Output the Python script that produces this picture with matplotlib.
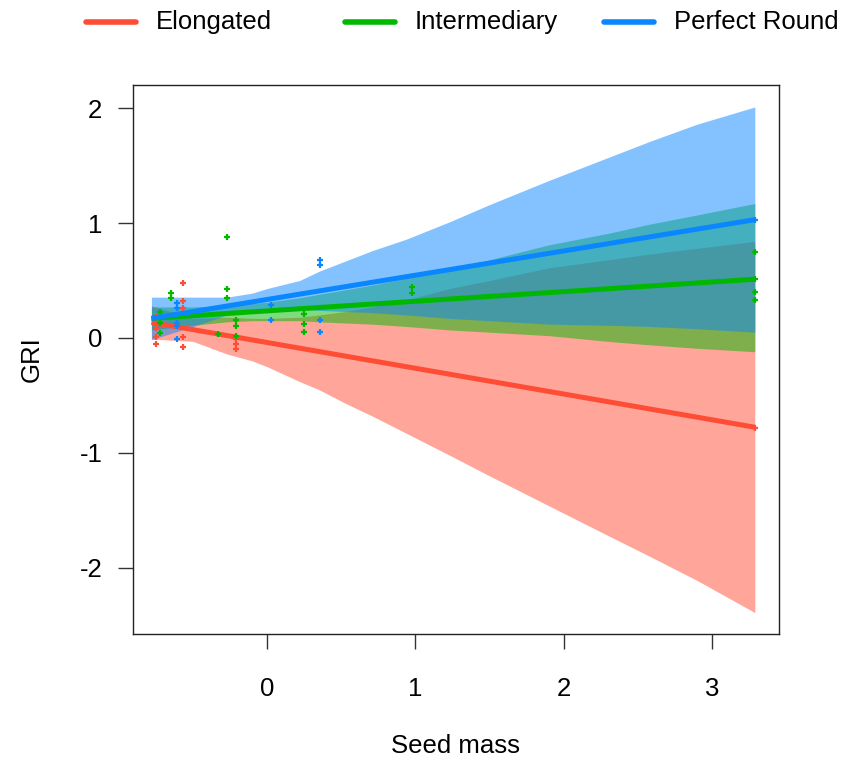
import matplotlib
matplotlib.use('Agg')
import matplotlib.pyplot as plt
from matplotlib.lines import Line2D

###############################################################################
#0. Data
###############################################################################

groups = ['Elongated', 'Intermediary', 'Perfect Round']
colours = ['#FF4D35', '#00B800', '#0A86FF']

#Fitted lines and confidence bands, sampled along seed mass
bandX = [-0.78, -0.5, -0.27, -0.1, 0.0, 0.22, 0.35, 0.53, 0.71, 0.94, 1.23, 1.5, 1.9, 2.3, 2.58, 2.9, 3.29]

elongMean = [0.135, 0.072, 0.021, -0.017, -0.04, -0.089, -0.118, -0.158, -0.199, -0.25, -0.315,
             -0.376, -0.465, -0.555, -0.618, -0.69, -0.777]
elongLow = [-0.01, -0.03, -0.14, -0.20, -0.25, -0.38, -0.45, -0.57, -0.68, -0.83, -1.02,
            -1.20, -1.46, -1.72, -1.90, -2.11, -2.39]
elongHigh = [0.28, 0.17, 0.18, 0.17, 0.17, 0.18, 0.20, 0.23, 0.27, 0.33, 0.43,
             0.50, 0.61, 0.68, 0.73, 0.78, 0.84]

interMean = [0.17, 0.193, 0.213, 0.227, 0.235, 0.254, 0.265, 0.28, 0.295, 0.314, 0.338,
             0.361, 0.394, 0.428, 0.451, 0.478, 0.511]
interLow = [0.07, 0.11, 0.14, 0.15, 0.15, 0.15, 0.14, 0.13, 0.12, 0.10, 0.07,
            0.05, 0.02, -0.03, -0.06, -0.09, -0.12]
interHigh = [0.27, 0.27, 0.28, 0.30, 0.31, 0.35, 0.38, 0.42, 0.46, 0.52, 0.60,
             0.68, 0.81, 0.91, 0.99, 1.07, 1.17]

roundMean = [0.17, 0.229, 0.278, 0.314, 0.335, 0.381, 0.408, 0.446, 0.484, 0.533, 0.594,
             0.651, 0.735, 0.82, 0.879, 0.946, 1.029]
roundLow = [-0.015, 0.10, 0.20, 0.23, 0.24, 0.25, 0.24, 0.23, 0.22, 0.20, 0.17,
            0.15, 0.12, 0.11, 0.10, 0.08, 0.05]
roundHigh = [0.355, 0.355, 0.355, 0.39, 0.43, 0.50, 0.58, 0.67, 0.76, 0.86, 1.01,
             1.16, 1.37, 1.57, 1.71, 1.86, 2.01]

#Raw observations
elongPtsX = [-0.75, -0.75, -0.75, -0.75, -0.57, -0.57, -0.57, -0.57, -0.57, -0.21, -0.21, -0.21, 3.29]
elongPtsY = [0.185, 0.09, 0.006, -0.05, 0.48, 0.32, 0.26, 0.006, -0.08, -0.01, -0.05, -0.10, -0.78]

interPtsX = [-0.72, -0.72, -0.72, -0.65, -0.65, -0.33, -0.27, -0.27, -0.27, -0.21, -0.21, -0.21,
             0.25, 0.25, 0.25, 0.98, 0.98, 3.29, 3.29, 3.29, 3.29]
interPtsY = [0.23, 0.13, 0.04, 0.39, 0.345, 0.03, 0.875, 0.43, 0.345, 0.16, 0.10, 0.02,
             0.21, 0.12, 0.055, 0.44, 0.39, 0.75, 0.51, 0.40, 0.33]

roundPtsX = [-0.61, -0.61, -0.61, -0.61, -0.61, 0.355, 0.355, 0.355, 0.355, 0.025, 0.025, 3.29]
roundPtsY = [0.30, 0.26, 0.13, 0.10, -0.01, 0.68, 0.635, 0.16, 0.055, 0.29, 0.155, 1.03]

xTicks = [0, 1, 2, 3]
yTicks = [-2, -1, 0, 1, 2]

###############################################################################
#1. Plot
###############################################################################

plt.rcParams['font.family'] = ['Liberation Sans', 'DejaVu Sans']
plt.rcParams['font.size'] = 18.5
plt.rcParams['axes.unicode_minus'] = False

fig = plt.figure(figsize=(8.42, 7.6), dpi=100)
ax = fig.add_axes([0.158, 0.166, 0.767, 0.722])

means = [elongMean, interMean, roundMean]
lows = [elongLow, interLow, roundLow]
highs = [elongHigh, interHigh, roundHigh]
ptsX = [elongPtsX, interPtsX, roundPtsX]
ptsY = [elongPtsY, interPtsY, roundPtsY]

#Each group drawn as band, line, points so later bands sit over earlier ones
for gi, col in enumerate(colours):
    ax.fill_between(bandX, lows[gi], highs[gi], color=col, alpha=0.5, linewidth=0)
    ax.plot([bandX[0], bandX[-1]], [means[gi][0], means[gi][-1]], color=col, linewidth=3.6,
            solid_capstyle='butt')
    ax.plot(ptsX[gi], ptsY[gi], linestyle='none', marker='+', markersize=5,
            markeredgewidth=1.6, color=col)

ax.set_xlim(-0.904, 3.452)
ax.set_ylim(-2.575, 2.2)
ax.set_xticks(xTicks)
ax.set_yticks(yTicks)
ax.tick_params(axis='both', direction='out', length=11, width=1.0, color='#333333')
ax.tick_params(axis='x', pad=20)
ax.tick_params(axis='y', pad=11)
for sp in ax.spines.values():
    sp.set_linewidth(1.0)
    sp.set_color('#222222')

ax.set_xlabel('Seed mass', labelpad=24)
ax.set_ylabel('GRI', labelpad=26)

#Legend across the top, equal-width columns like base R
legY = 1 - 22 / 760
for gi, col in enumerate(colours):
    x0 = (86 + 259 * gi) / 842
    fig.add_artist(Line2D([x0, x0 + 50 / 842], [legY, legY], color=col, linewidth=4,
                          solid_capstyle='round'))
    fig.text(x0 + 70 / 842, legY, groups[gi], ha='left', va='center')

fig.savefig('out.png', dpi=100)
